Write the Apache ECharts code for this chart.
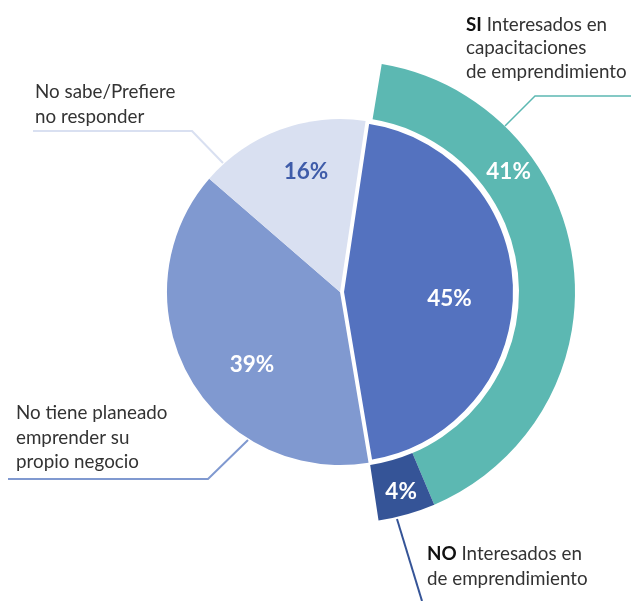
<!DOCTYPE html>
<html>
<head>
<meta charset="utf-8">
<script src="https://cdn.jsdelivr.net/npm/echarts@6/dist/echarts.min.js"></script>
<style>
html, body { margin: 0; padding: 0; background: #fff; }
#main { width: 631px; height: 601px; }
</style>
</head>
<body>
<div id="main"></div>
<script>
// inner pie: 45 / 39 / 16 (clockwise)
var innerNames = ['Interesados', 'No tiene planeado emprender su propio negocio', 'No sabe/Prefiere no responder'];
var innerValues = [45, 39, 16];
// outer ring over the 45% slice
var ringNames = ['SI Interesados', 'NO Interesados'];
var ringValues = [41, 4];
var ringRest = 55;

var FONT = 'Lato, "Open Sans", sans-serif';
var colInterest = '#5472bf';
var colNoPlan = '#8099d0';
var colNoSabe = '#d9e0f1';
var colSi = '#5cb8b2';
var colNo = '#355497';

var myChart = echarts.init(document.getElementById('main'));

var pctLabel = function(color, off) {
	return {
		show : true,
		position : 'inside',
		formatter : '{c}%',
		fontFamily : FONT,
		fontSize : 22.5,
		fontWeight : 'bold',
		color : color,
		offset : off
	};
};

var option = {
	backgroundColor : '#fff',
	animation : false,
	series : [ {
		// 39% and 16% slices
		type : 'pie',
		center : [ 340, 292 ],
		radius : [ 0, 173 ],
		startAngle : 81.5,
		clockwise : true,
		silent : true,
		label : { show : false },
		labelLine : { show : false },
		data : [ {
			name : innerNames[0],
			value : innerValues[0],
			itemStyle : { color : 'rgba(0,0,0,0)' }
		}, {
			name : innerNames[1],
			value : innerValues[1],
			itemStyle : { color : colNoPlan },
			label : pctLabel('#fff', [ -10, 29 ])
		}, {
			name : innerNames[2],
			value : innerValues[2],
			itemStyle : { color : colNoSabe },
			label : pctLabel('#3f5ca9', [ -3, -36 ])
		} ]
	}, {
		// 45% slice, pulled out a little
		type : 'pie',
		center : [ 343, 292 ],
		radius : [ 0, 171 ],
		startAngle : 81.5,
		clockwise : true,
		silent : true,
		label : { show : false },
		labelLine : { show : false },
		data : [ {
			name : innerNames[0],
			value : innerValues[0],
			itemStyle : { color : colInterest, borderColor : '#fff', borderWidth : 2 },
			label : pctLabel('#fff', [ 18, 8 ])
		}, {
			name : 'rest',
			value : innerValues[1] + innerValues[2],
			itemStyle : { color : 'rgba(0,0,0,0)' }
		} ]
	}, {
		// outer ring SI / NO
		type : 'pie',
		center : [ 344, 292 ],
		radius : [ 175, 231 ],
		startAngle : 80.6,
		clockwise : true,
		silent : true,
		label : { show : false },
		labelLine : { show : false },
		data : [ {
			name : ringNames[0],
			value : ringValues[0],
			itemStyle : { color : colSi },
			label : pctLabel('#fff', [ -40, -96 ])
		}, {
			name : ringNames[1],
			value : ringValues[1],
			itemStyle : { color : colNo },
			label : pctLabel('#fff', [ 1, 2 ])
		}, {
			name : 'rest',
			value : ringRest,
			itemStyle : { color : 'rgba(0,0,0,0)' }
		} ]
	} ],
	graphic : [
		// leader lines
		{ type : 'polyline', shape : { points : [ [ 505, 126 ], [ 535, 96 ], [ 631, 96 ] ] },
			style : { stroke : colSi, lineWidth : 1.5, fill : null } },
		{ type : 'polyline', shape : { points : [ [ 33, 131 ], [ 192, 131 ], [ 223, 163 ] ] },
			style : { stroke : colNoSabe, lineWidth : 2, fill : null } },
		{ type : 'polyline', shape : { points : [ [ 8, 479 ], [ 208, 479 ], [ 248, 440 ] ] },
			style : { stroke : colNoPlan, lineWidth : 2, fill : null } },
		{ type : 'polyline', shape : { points : [ [ 397, 519 ], [ 422, 601 ] ] },
			style : { stroke : colNo, lineWidth : 2, fill : null } },
		// annotations
		{ type : 'text', x : 466, y : 13, style : {
			text : '{b|SI} Interesados en\ncapacitaciones\nde emprendimiento',
			font : '18.8px ' + FONT, fill : '#333', lineHeight : 23.5, verticalAlign : 'top',
			rich : { b : { fontWeight : 'bold', fill : '#111', fontSize : 18.8, fontFamily : FONT } } } },
		{ type : 'text', x : 35, y : 80, style : {
			text : 'No sabe/Prefiere\nno responder',
			font : '18.8px ' + FONT, fill : '#333', lineHeight : 24.5, verticalAlign : 'top' } },
		{ type : 'text', x : 16, y : 401, style : {
			text : 'No tiene planeado\nemprender su\npropio negocio',
			font : '18.8px ' + FONT, fill : '#333', lineHeight : 24.5, verticalAlign : 'top' } },
		{ type : 'text', x : 427, y : 541, style : {
			text : '{b|NO} Interesados en\nde emprendimiento',
			font : '18.8px ' + FONT, fill : '#333', lineHeight : 25.5, verticalAlign : 'top',
			rich : { b : { fontWeight : 'bold', fill : '#111', fontSize : 18.8, fontFamily : FONT } } } }
	]
};

myChart.setOption(option);
</script>
</body>
</html>
